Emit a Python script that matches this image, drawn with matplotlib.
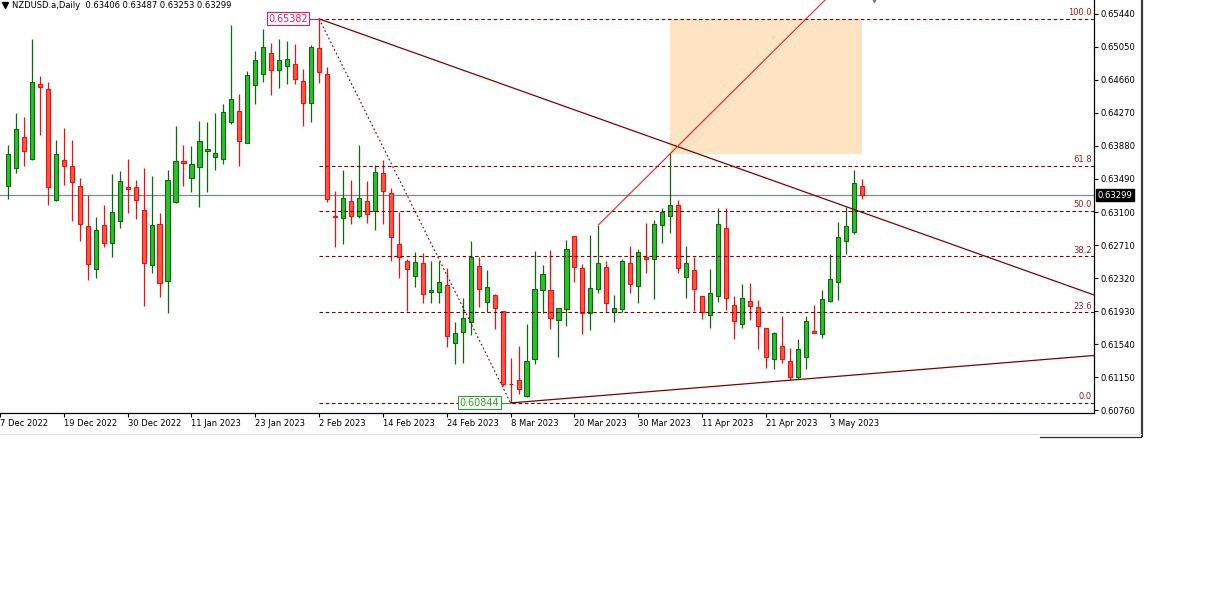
import numpy as np
import pandas as pd
import matplotlib
matplotlib.use("Agg")
import matplotlib.pyplot as plt
from matplotlib.lines import Line2D
from matplotlib.patches import Rectangle

plt.rcParams['font.family'] = ['DejaVu Sans']

# ---------------- data ----------------
title_text = "NZDUSD.a,Daily  0.63406 0.63487 0.63253 0.63299"

dates = pd.bdate_range("2022-12-08", "2023-05-09")
dates = dates[dates != pd.Timestamp("2022-12-26")]

opens = [0.63411, 0.63617, 0.63986, 0.63723, 0.64609, 0.64550, 0.63238, 0.63711, 0.63644, 0.63407,
         0.62932, 0.62423, 0.62943, 0.62730, 0.62991, 0.63392, 0.63392, 0.63120, 0.62470, 0.62955,
         0.62281, 0.63215, 0.63700, 0.63498, 0.63629, 0.63818, 0.63747, 0.63723, 0.64160, 0.64291,
         0.63919, 0.64597, 0.64731, 0.64976, 0.64774, 0.64822, 0.64845, 0.64648, 0.64385, 0.65035,
         0.64731, 0.63057, 0.63026, 0.63227, 0.63053, 0.63227, 0.63116, 0.63557, 0.63321, 0.62722,
         0.62521, 0.62341, 0.62494, 0.62151, 0.62151, 0.62233, 0.61555, 0.61678, 0.61797, 0.62459,
         0.62033, 0.62115, 0.61927, 0.61068, 0.61111, 0.60922, 0.61359, 0.62178, 0.62174, 0.61820,
         0.61950, 0.62816, 0.62435, 0.61903, 0.62187, 0.62447, 0.61922, 0.61950, 0.62494, 0.62231,
         0.62572, 0.62541, 0.62943, 0.63050, 0.63179, 0.62329, 0.62411, 0.62104, 0.61879, 0.62104,
         0.62907, 0.62001, 0.61773, 0.62048, 0.61974, 0.61725, 0.61359, 0.61513, 0.61336, 0.61154,
         0.61383, 0.61697, 0.61654, 0.62048, 0.62269, 0.62754, 0.62860, 0.63406]
highs = [0.63892, 0.64271, 0.64223, 0.65145, 0.64707, 0.64636, 0.63955, 0.64096, 0.63951, 0.63505,
         0.63301, 0.63045, 0.63183, 0.63549, 0.63584, 0.63727, 0.63478, 0.63620, 0.63525, 0.63085,
         0.63596, 0.64116, 0.63892, 0.63884, 0.64175, 0.64160, 0.64271, 0.64373, 0.65313, 0.64491,
         0.64766, 0.65003, 0.65259, 0.65094, 0.65141, 0.65121, 0.65086, 0.64786, 0.65077, 0.65382,
         0.64817, 0.63348, 0.63596, 0.63478, 0.63892, 0.63466, 0.63656, 0.63715, 0.63380, 0.63104,
         0.62541, 0.62624, 0.62612, 0.62521, 0.62521, 0.62435, 0.61800, 0.62080, 0.62757, 0.62572,
         0.62415, 0.62127, 0.61930, 0.61371, 0.61516, 0.61773, 0.62639, 0.62474, 0.62651, 0.61962,
         0.62769, 0.62816, 0.62482, 0.62828, 0.62947, 0.62521, 0.62115, 0.62541, 0.62702, 0.62663,
         0.62967, 0.63006, 0.63144, 0.63794, 0.63242, 0.62698, 0.62572, 0.62107, 0.62427, 0.63151,
         0.63151, 0.62107, 0.62249, 0.62261, 0.62060, 0.61729, 0.61681, 0.61871, 0.61493, 0.61602,
         0.61871, 0.62001, 0.62178, 0.62604, 0.62982, 0.63156, 0.63596, 0.63487]
lows = [0.63254, 0.63557, 0.63648, 0.63715, 0.64010, 0.63186, 0.63230, 0.63422, 0.62998, 0.62761,
        0.62301, 0.62324, 0.62690, 0.62572, 0.62915, 0.63092, 0.63014, 0.61993, 0.62383, 0.62099,
        0.61910, 0.63210, 0.63411, 0.63340, 0.63156, 0.63340, 0.63600, 0.63668, 0.64136, 0.63648,
        0.63912, 0.64373, 0.64633, 0.64486, 0.64569, 0.64609, 0.64613, 0.64120, 0.64167, 0.64628,
        0.63222, 0.62690, 0.62725, 0.62959, 0.63026, 0.62974, 0.62887, 0.62959, 0.62521, 0.62324,
        0.61934, 0.62210, 0.62021, 0.62021, 0.62021, 0.61508, 0.61307, 0.61319, 0.61646, 0.61977,
        0.61915, 0.61721, 0.61044, 0.60844, 0.60949, 0.60910, 0.61304, 0.61903, 0.61721, 0.61390,
        0.61753, 0.62276, 0.61661, 0.61709, 0.62146, 0.61915, 0.61804, 0.61915, 0.62139, 0.62030,
        0.62376, 0.62072, 0.62737, 0.62848, 0.62383, 0.62087, 0.61934, 0.61840, 0.61733, 0.62033,
        0.61942, 0.61602, 0.61733, 0.61824, 0.61484, 0.61260, 0.61248, 0.61312, 0.61115, 0.61123,
        0.61241, 0.61666, 0.61607, 0.62036, 0.62060, 0.62607, 0.62844, 0.63253]
closes = [0.63782, 0.64077, 0.63818, 0.64633, 0.64574, 0.63399, 0.63782, 0.63641, 0.63458, 0.62955,
          0.62482, 0.62883, 0.62737, 0.63097, 0.63463, 0.63372, 0.63238, 0.62494, 0.62943, 0.62257,
          0.63474, 0.63700, 0.63683, 0.63668, 0.63936, 0.63841, 0.63794, 0.64279, 0.64432, 0.63936,
          0.64715, 0.64892, 0.65047, 0.64782, 0.64892, 0.64904, 0.64668, 0.64385, 0.65047, 0.64751,
          0.63250, 0.63045, 0.63262, 0.63057, 0.63262, 0.63073, 0.63576, 0.63352, 0.62801, 0.62565,
          0.62423, 0.62506, 0.62127, 0.62178, 0.62269, 0.61638, 0.61666, 0.61844, 0.62565, 0.62193,
          0.62210, 0.61962, 0.61064, 0.61062, 0.61005, 0.61336, 0.62187, 0.62364, 0.61851, 0.61962,
          0.62659, 0.62447, 0.61903, 0.62198, 0.62498, 0.62021, 0.61962, 0.62521, 0.62245, 0.62624,
          0.62548, 0.62955, 0.63100, 0.63179, 0.62435, 0.62501, 0.62187, 0.61915, 0.62143, 0.62955,
          0.62087, 0.61808, 0.62080, 0.61989, 0.61757, 0.61383, 0.61670, 0.61359, 0.61154, 0.61477,
          0.61812, 0.61666, 0.62068, 0.62305, 0.62805, 0.62932, 0.63439, 0.63299]

current_price = 0.63299

# Fibonacci retracement (2 Feb high -> 8 Mar low)
fib_high_idx, fib_high = 39, 0.65382
fib_low_idx, fib_low = 63, 0.60844
fib_levels = [0.0, 23.6, 38.2, 50.0, 61.8, 100.0]

# Trend lines (anchor bar index, price)
upper_trend = [(39, 0.65382), (107, 0.63098)]
lower_trend = [(63, 0.60844), (99, 0.61120)]
red_ray = [(74, 0.62947), (83, 0.63789)]
# Rectangle zone
zone_x = (83, 107)
zone_price = (0.63789, 0.65382)

price_ticks = [0.65440, 0.65050, 0.64660, 0.64270, 0.63880, 0.63490, 0.63100,
               0.62710, 0.62320, 0.61930, 0.61540, 0.61150, 0.60760]
date_labels = ["7 Dec 2022", "19 Dec 2022", "30 Dec 2022", "11 Jan 2023", "23 Jan 2023",
               "2 Feb 2023", "14 Feb 2023", "24 Feb 2023", "8 Mar 2023", "20 Mar 2023",
               "30 Mar 2023", "11 Apr 2023", "21 Apr 2023", "3 May 2023"]
date_label_start = -1   # index of "7 Dec 2022" relative to first bar
date_label_step = 8

# ---------------- figure ----------------
W, H = 1222, 602
fig = plt.figure(figsize=(W / 100, H / 100), dpi=100)
fig.patch.set_facecolor('white')
ax_left, ax_right, ax_top, ax_bot = 0, 1094, 0, 413
ax = fig.add_axes([ax_left / W, 1 - ax_bot / H, (ax_right - ax_left) / W, (ax_bot - ax_top) / H])

o = np.array(opens); h = np.array(highs); l = np.array(lows); c = np.array(closes)
x = np.arange(len(o))
up = c >= o
dn = ~up

n_right = 136.125
ax.set_xlim(-0.625, n_right)
ax.set_ylim(0.60725, 0.65605)

bull_fill, bull_edge = '#2DBE2D', '#0B6B0B'
bear_fill, bear_edge = '#FF5542', '#F01010'

# zone rectangle
ax.add_patch(Rectangle((zone_x[0], zone_price[0]), zone_x[1] - zone_x[0],
                       zone_price[1] - zone_price[0], facecolor='#FFE4C4',
                       edgecolor='none', zorder=0.5))

# current price line
ax.axhline(current_price, color='#7E8894', lw=0.9, zorder=1)

# wicks
ax.vlines(x[up], l[up], h[up], colors=bull_edge, lw=0.9, zorder=2)
ax.vlines(x[dn], l[dn], h[dn], colors=bear_edge, lw=0.9, zorder=2)
# bodies
ax.bar(x[up], c[up] - o[up], bottom=o[up], width=0.52, color=bull_fill,
       edgecolor=bull_edge, linewidth=0.8, zorder=3)
ax.bar(x[dn], o[dn] - c[dn], bottom=c[dn], width=0.52, color=bear_fill,
       edgecolor=bear_edge, linewidth=0.8, zorder=3)

maroon = '#800000'
# fib levels
for lv in fib_levels:
    price = fib_low + (fib_high - fib_low) * lv / 100.0
    ax.plot([fib_high_idx, n_right], [price, price], color=maroon, lw=0.8,
            linestyle=(0, (3.2, 2.4)), zorder=5)
    ax.annotate(f"{lv:.1f}", xy=(1, price), xycoords=('axes fraction', 'data'),
                xytext=(-1.5, 1.2), textcoords='offset points', ha='right', va='bottom',
                fontsize=6, color='#9A1A1A', zorder=6)
# fib diagonal
ax.plot([fib_high_idx, fib_low_idx], [fib_high, fib_low], color=maroon, lw=0.8,
        linestyle=(0, (1.6, 2.2)), zorder=5)


def extend(p0, p1, x_end):
    slope = (p1[1] - p0[1]) / (p1[0] - p0[0])
    return [p0[0], x_end], [p0[1], p0[1] + slope * (x_end - p0[0])]


xs, ys = extend(upper_trend[0], upper_trend[1], n_right)
ax.plot(xs, ys, color=maroon, lw=0.9, zorder=5)
xs, ys = extend(lower_trend[0], lower_trend[1], n_right)
ax.plot(xs, ys, color=maroon, lw=0.9, zorder=5)
xs, ys = extend(red_ray[0], red_ray[1], n_right)
ax.plot(xs, ys, color='#FF0000', lw=0.7, zorder=5)

# high / low price boxes
hi_col = '#D81E5B'
ax.plot([fib_high_idx - 1.25, fib_high_idx], [fib_high, fib_high], color=hi_col, lw=0.8, zorder=6)
ax.annotate(f"{fib_high:.5f}", xy=(fib_high_idx, fib_high), xytext=(-8.2, 0),
            textcoords='offset points', ha='right', va='center', fontsize=6.9, color=hi_col,
            bbox=dict(boxstyle='square,pad=0.15', fc='white', ec=hi_col, lw=0.8), zorder=7)
lo_col = '#2E9E2E'
ax.plot([fib_low_idx - 1.25, fib_low_idx], [fib_low, fib_low], color=lo_col, lw=0.8, zorder=6)
ax.annotate(f"{fib_low:.5f}", xy=(fib_low_idx, fib_low), xytext=(-8.2, 0),
            textcoords='offset points', ha='right', va='center', fontsize=6.9, color=lo_col,
            bbox=dict(boxstyle='square,pad=0.15', fc='white', ec=lo_col, lw=0.8), zorder=7)

# small gray marker at top
ax.plot([108.5], [0.65612], marker='v', ms=5, color='#6E7E90', clip_on=True, zorder=7)

# axes styling
for s in ['top', 'left']:
    ax.spines[s].set_visible(False)
for s in ['right', 'bottom']:
    ax.spines[s].set_color('black')
    ax.spines[s].set_linewidth(0.9)
ax.yaxis.tick_right()
ax.set_yticks(price_ticks)
ax.set_yticklabels([f"{v:.5f}" for v in price_ticks])
ax.tick_params(axis='y', direction='out', length=3, width=0.8, pad=2, labelsize=6.1, colors='black')

tick_pos = [date_label_start + date_label_step * k for k in range(len(date_labels))]
ax.set_xticks(tick_pos)
ax.set_xticklabels(date_labels)
ax.tick_params(axis='x', direction='out', length=3, width=0.8, pad=1.5, labelsize=6, colors='black')
for lbl in ax.get_xticklabels():
    lbl.set_ha('left')

# current price tag
ax.annotate(f"{current_price:.5f}", xy=(1, current_price), xycoords=('axes fraction', 'data'),
            xytext=(2.5, 0), textcoords='offset points', ha='left', va='center', fontsize=6.1,
            color='white', bbox=dict(boxstyle='square,pad=0.2', fc='black', ec='black'),
            annotation_clip=False, zorder=8)

# title
fig.text(12 / W, 1 - 6 / H, title_text, fontsize=6, va='center', ha='left', color='black')
fig.add_artist(Line2D([5 / W], [1 - 5 / H], marker='v', ms=4, color='black',
                      transform=fig.transFigure))

# window frame lines
fig.add_artist(Line2D([1141.5 / W, 1141.5 / W], [1, 1 - 436 / H], color='#3A3A3A', lw=1.6,
                      transform=fig.transFigure))
fig.add_artist(Line2D([0, 1141 / W], [1 - 434 / H, 1 - 434 / H], color='#E0E0E0', lw=0.8,
                      transform=fig.transFigure))
fig.add_artist(Line2D([1040 / W, 1141 / W], [1 - 436.5 / H, 1 - 436.5 / H], color='#303030', lw=0.9,
                      transform=fig.transFigure))

fig.savefig("out.png", dpi=100, facecolor='white')
